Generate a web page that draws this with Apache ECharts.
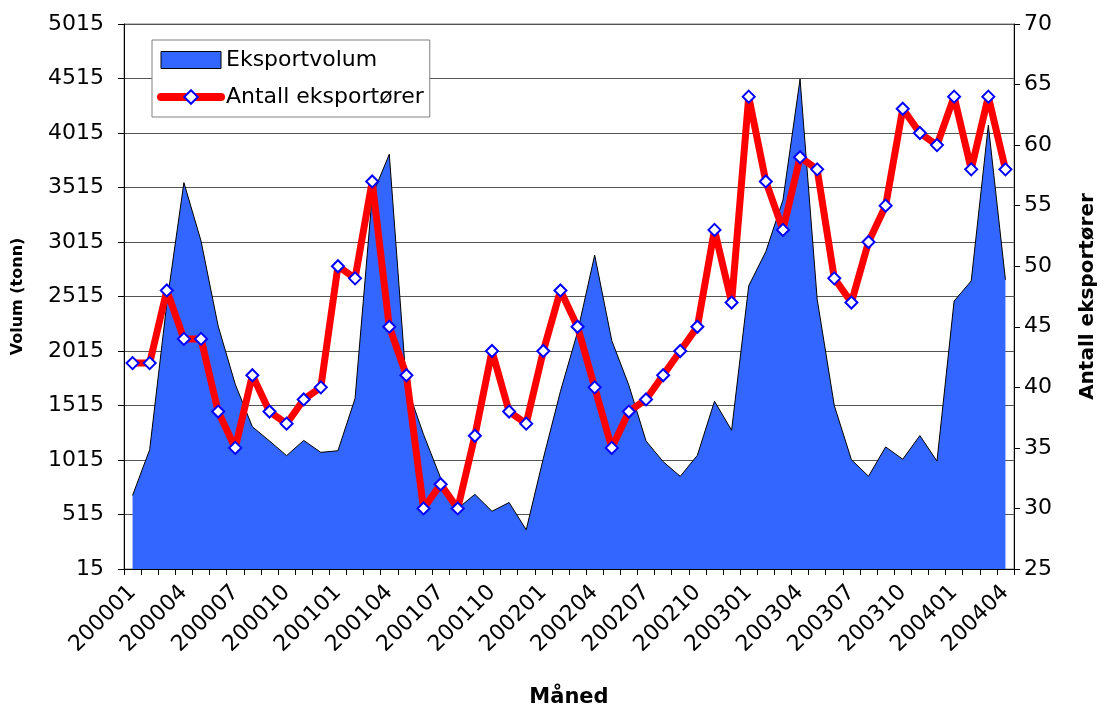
<!DOCTYPE html>
<html>
<head>
<meta charset="utf-8">
<script src="https://cdn.jsdelivr.net/npm/echarts@6/dist/echarts.min.js"></script>
<style>
html,body{margin:0;padding:0;background:#fff;}
#chart{width:1106px;height:713px;}
</style>
</head>
<body>
<div id="chart"></div>
<script>
const categories = [
  '200001','200002','200003','200004','200005','200006','200007','200008','200009','200010','200011','200012',
  '200101','200102','200103','200104','200105','200106','200107','200108','200109','200110','200111','200112',
  '200201','200202','200203','200204','200205','200206','200207','200208','200209','200210','200211','200212',
  '200301','200302','200303','200304','200305','200306','200307','200308','200309','200310','200311','200312',
  '200401','200402','200403','200404'
];
const eksportvolum = [
  690,1110,2450,3560,3025,2245,1710,1320,1190,1055,1195,1085,
  1100,1580,3440,3820,1700,1250,850,570,700,545,625,375,
  1030,1645,2190,2895,2110,1700,1190,1000,865,1058,1554,1288,
  2613,2927,3400,4510,2490,1515,1018,866,1135,1022,1239,1005,
  2473,2658,4087,2668
];
const antallEksportorer = [
  42,42,48,44,44,38,35,41,38,37,39,40,
  50,49,57,45,41,30,32,30,36,43,38,37,
  43,48,45,40,35,38,39,41,43,45,53,47,
  64,57,53,59,58,49,47,52,55,63,61,60,
  64,58,64,58
];
const leftAxis = {min: 15, max: 5015, interval: 500};
const rightAxis = {min: 25, max: 70, interval: 5};

const FONT = 'DejaVu Sans, Verdana, sans-serif';
const plain = v => String(v);
const chart = echarts.init(document.getElementById('chart'), null, {renderer: 'canvas'});
chart.setOption({
  animation: false,
  backgroundColor: '#ffffff',
  textStyle: {fontFamily: FONT},
  grid: {left: 124, right: 89, top: 24, bottom: 143, containLabel: false,
         show: true, borderColor: '#808080', borderWidth: 1, backgroundColor: '#ffffff'},
  legend: {
    orient: 'vertical',
    left: 152, top: 40,
    padding: [9, 6, 9, 5],
    itemGap: 15,
    itemWidth: 60, itemHeight: 17,
    backgroundColor: '#ffffff',
    borderColor: '#808080', borderWidth: 1, borderRadius: 0,
    textStyle: {fontSize: 22, color: '#000', fontFamily: FONT},
    data: [
      {name: 'Eksportvolum', icon: 'rect', itemStyle: {color: '#3366FF', borderColor: '#000', borderWidth: 1}},
      {name: 'Antall eksportører', lineStyle: {color: '#FF0000', width: 8}}
    ]
  },
  xAxis: {
    type: 'category',
    data: categories,
    boundaryGap: true,
    name: 'Måned',
    nameLocation: 'middle',
    nameGap: 118,
    nameTextStyle: {fontSize: 21, fontWeight: 'bold', color: '#000', fontFamily: FONT},
    axisLine: {lineStyle: {color: '#000', width: 1}},
    axisTick: {show: true, interval: 0, length: 6, inside: false, lineStyle: {color: '#000'}},
    axisLabel: {interval: 2, rotate: 45, fontSize: 22, color: '#000', margin: 20, fontFamily: FONT},
    splitLine: {show: false}
  },
  yAxis: [
    {
      type: 'value',
      min: leftAxis.min, max: leftAxis.max, interval: leftAxis.interval,
      name: 'Volum (tonn)',
      nameLocation: 'middle',
      nameRotate: 90,
      nameGap: 98,
      nameTextStyle: {fontSize: 16, fontWeight: 'bold', color: '#000', fontFamily: FONT},
      axisLine: {show: true, lineStyle: {color: '#000', width: 1}},
      axisTick: {show: true, length: 6, lineStyle: {color: '#000'}},
      axisLabel: {fontSize: 22, color: '#000', margin: 20, fontFamily: FONT, formatter: plain},
      splitLine: {show: true, lineStyle: {color: '#555', width: 1}}
    },
    {
      type: 'value',
      position: 'right',
      min: rightAxis.min, max: rightAxis.max, interval: rightAxis.interval,
      name: 'Antall eksportører',
      nameLocation: 'middle',
      nameRotate: 90,
      nameGap: 64,
      nameTextStyle: {fontSize: 20, fontWeight: 'bold', color: '#000', fontFamily: FONT},
      axisLine: {show: true, lineStyle: {color: '#000', width: 1}},
      axisTick: {show: true, length: 6, lineStyle: {color: '#000'}},
      axisLabel: {fontSize: 22, color: '#000', margin: 10, fontFamily: FONT, formatter: plain},
      splitLine: {show: false}
    }
  ],
  series: [
    {
      name: 'Eksportvolum',
      type: 'line',
      yAxisIndex: 0,
      data: eksportvolum,
      showSymbol: false,
      symbol: 'none',
      itemStyle: {color: '#3366FF'},
      lineStyle: {color: '#000', width: 1},
      areaStyle: {color: '#3366FF', opacity: 1},
      z: 2
    },
    {
      name: 'Antall eksportører',
      type: 'line',
      yAxisIndex: 1,
      data: antallEksportorer,
      symbol: 'diamond',
      symbolSize: 12,
      showAllSymbol: true,
      itemStyle: {color: '#ffffff', borderColor: '#0000FF', borderWidth: 2},
      lineStyle: {color: '#FF0000', width: 7, cap: 'round', join: 'round'},
      z: 3
    }
  ]
});
</script>
</body>
</html>
